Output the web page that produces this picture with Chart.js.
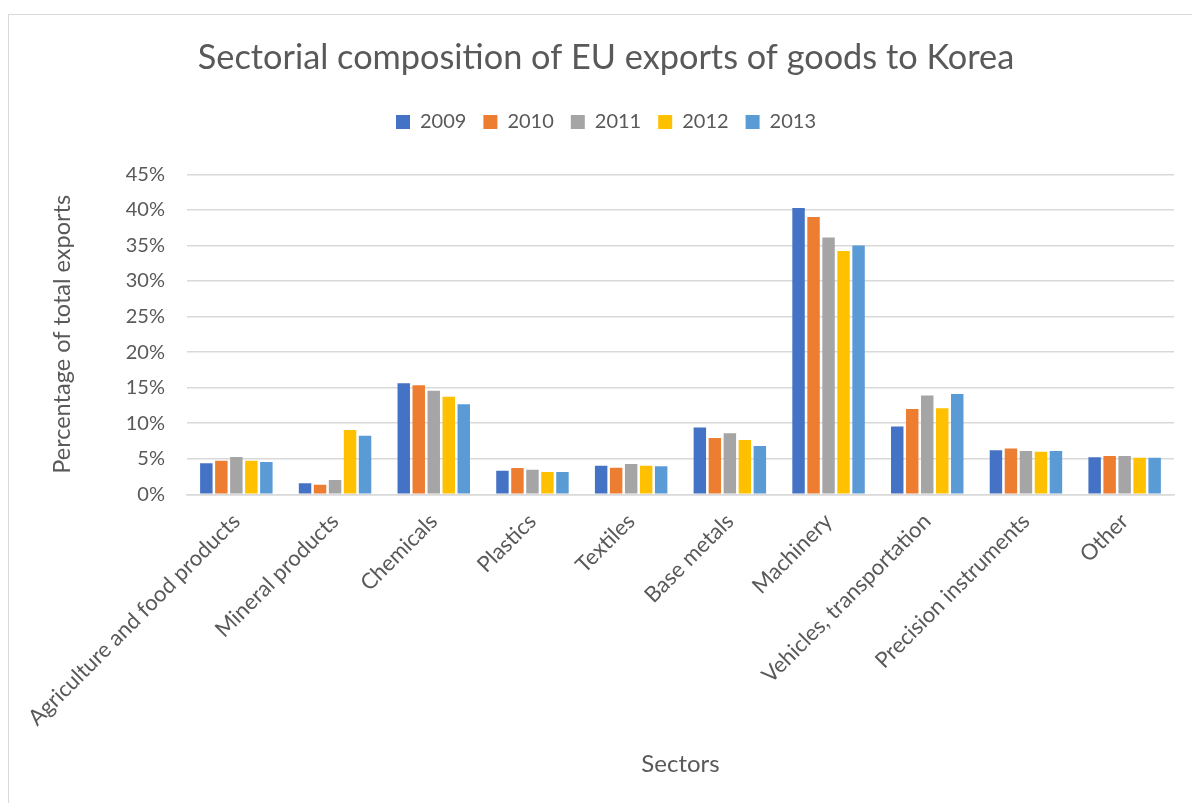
<!DOCTYPE html>
<html>
<head>
<meta charset="utf-8">
<script src="https://cdn.jsdelivr.net/npm/chart.js@4/dist/chart.umd.min.js"></script>
<style>
  html, body { margin: 0; padding: 0; background: #fff; overflow: hidden; }
  #frame { position: absolute; left: 8px; top: 14px; width: 1196px; height: 800px; border: 1px solid #d9d9d9; }
  #chart { display: block; }
</style>
</head>
<body>
<div id="frame"><canvas id="chart" width="1196" height="800"></canvas></div>
<script>
var sectors = ['Agriculture and food products', 'Mineral products', 'Chemicals', 'Plastics', 'Textiles',
  'Base metals', 'Machinery', 'Vehicles, transportation', 'Precision instruments', 'Other'];
var years = ['2009', '2010', '2011', '2012', '2013'];

// share of total exports, in percent
var share2009 = [4.35, 1.55, 15.6, 3.3, 4.0, 9.4, 40.25, 9.55, 6.2, 5.2];
var share2010 = [4.7, 1.35, 15.35, 3.7, 3.75, 7.9, 39.0, 12.0, 6.45, 5.4];
var share2011 = [5.25, 2.0, 14.55, 3.45, 4.25, 8.6, 36.1, 13.9, 6.1, 5.4];
var share2012 = [4.7, 9.05, 13.7, 3.15, 4.0, 7.65, 34.2, 12.1, 6.0, 5.15];
var share2013 = [4.55, 8.25, 12.65, 3.15, 3.95, 6.8, 35.0, 14.1, 6.1, 5.15];

var yTicks = [0, 5, 10, 15, 20, 25, 30, 35, 40, 45];

var colors = ['#4472C4', '#ED7D31', '#A5A5A5', '#FFC000', '#5B9BD5'];
var series = [share2009, share2010, share2011, share2012, share2013];
var textColor = '#595959';
var gridColor = '#d9d9d9';
var fontFamily = 'Lato, "Open Sans", sans-serif';

var datasets = [];
for (var i in series) {
  datasets.push({
    label: years[i],
    data: series[i],
    backgroundColor: colors[i],
    borderWidth: 0,
    categoryPercentage: 0.76,
    barPercentage: 0.83
  });
}

// extra room under the legend
var legendGap = {
  id: 'legendGap',
  beforeInit: function(chart) {
    var fit = chart.legend.fit;
    chart.legend.fit = function() {
      fit.call(this);
      this.height += 32.3;
    };
  }
};

new Chart(document.getElementById('chart'), {
  type: 'bar',
  data: { labels: sectors, datasets: datasets },
  plugins: [legendGap],
  options: {
    responsive: false,
    animation: false,
    layout: { padding: { left: 29, right: 31, top: 0, bottom: 0 } },
    plugins: {
      title: {
        display: true,
        text: 'Sectorial composition of EU exports of goods to Korea',
        color: textColor,
        font: { family: fontFamily, size: 34.3, weight: 'normal' },
        padding: { top: 22.4, bottom: 16.4 }
      },
      legend: {
        position: 'top',
        labels: {
          color: textColor,
          font: { family: fontFamily, size: 20 },
          boxWidth: 14,
          boxHeight: 14,
          padding: 17
        }
      },
      tooltip: { enabled: false }
    },
    scales: {
      x: {
        grid: { display: false, drawTicks: false },
        border: { display: true, color: gridColor, width: 1.5 },
        ticks: {
          color: textColor,
          font: { family: fontFamily, size: 22 },
          maxRotation: 45,
          minRotation: 45,
          padding: 14,
          autoSkip: false
        },
        title: {
          display: true,
          text: 'Sectors',
          color: textColor,
          font: { family: fontFamily, size: 24 },
          padding: { top: 0, bottom: 36 }
        },
        afterFit: function(scale) { scale.height = 320.7; }
      },
      y: {
        min: 0,
        max: 45,
        grid: { color: gridColor, lineWidth: 1.5, drawTicks: false },
        border: { display: false },
        afterBuildTicks: function(scale) {
          scale.ticks = yTicks.map(function(v) { return { value: v }; });
        },
        ticks: {
          color: textColor,
          font: { family: fontFamily, size: 20 },
          padding: 22,
          callback: function(v) { return v + '%'; }
        },
        title: {
          display: true,
          text: 'Percentage of total exports',
          color: textColor,
          font: { family: fontFamily, size: 23.5 },
          padding: { top: 10, bottom: 0 }
        },
        afterFit: function(scale) { scale.width = 149; }
      }
    }
  }
});
</script>
</body>
</html>
